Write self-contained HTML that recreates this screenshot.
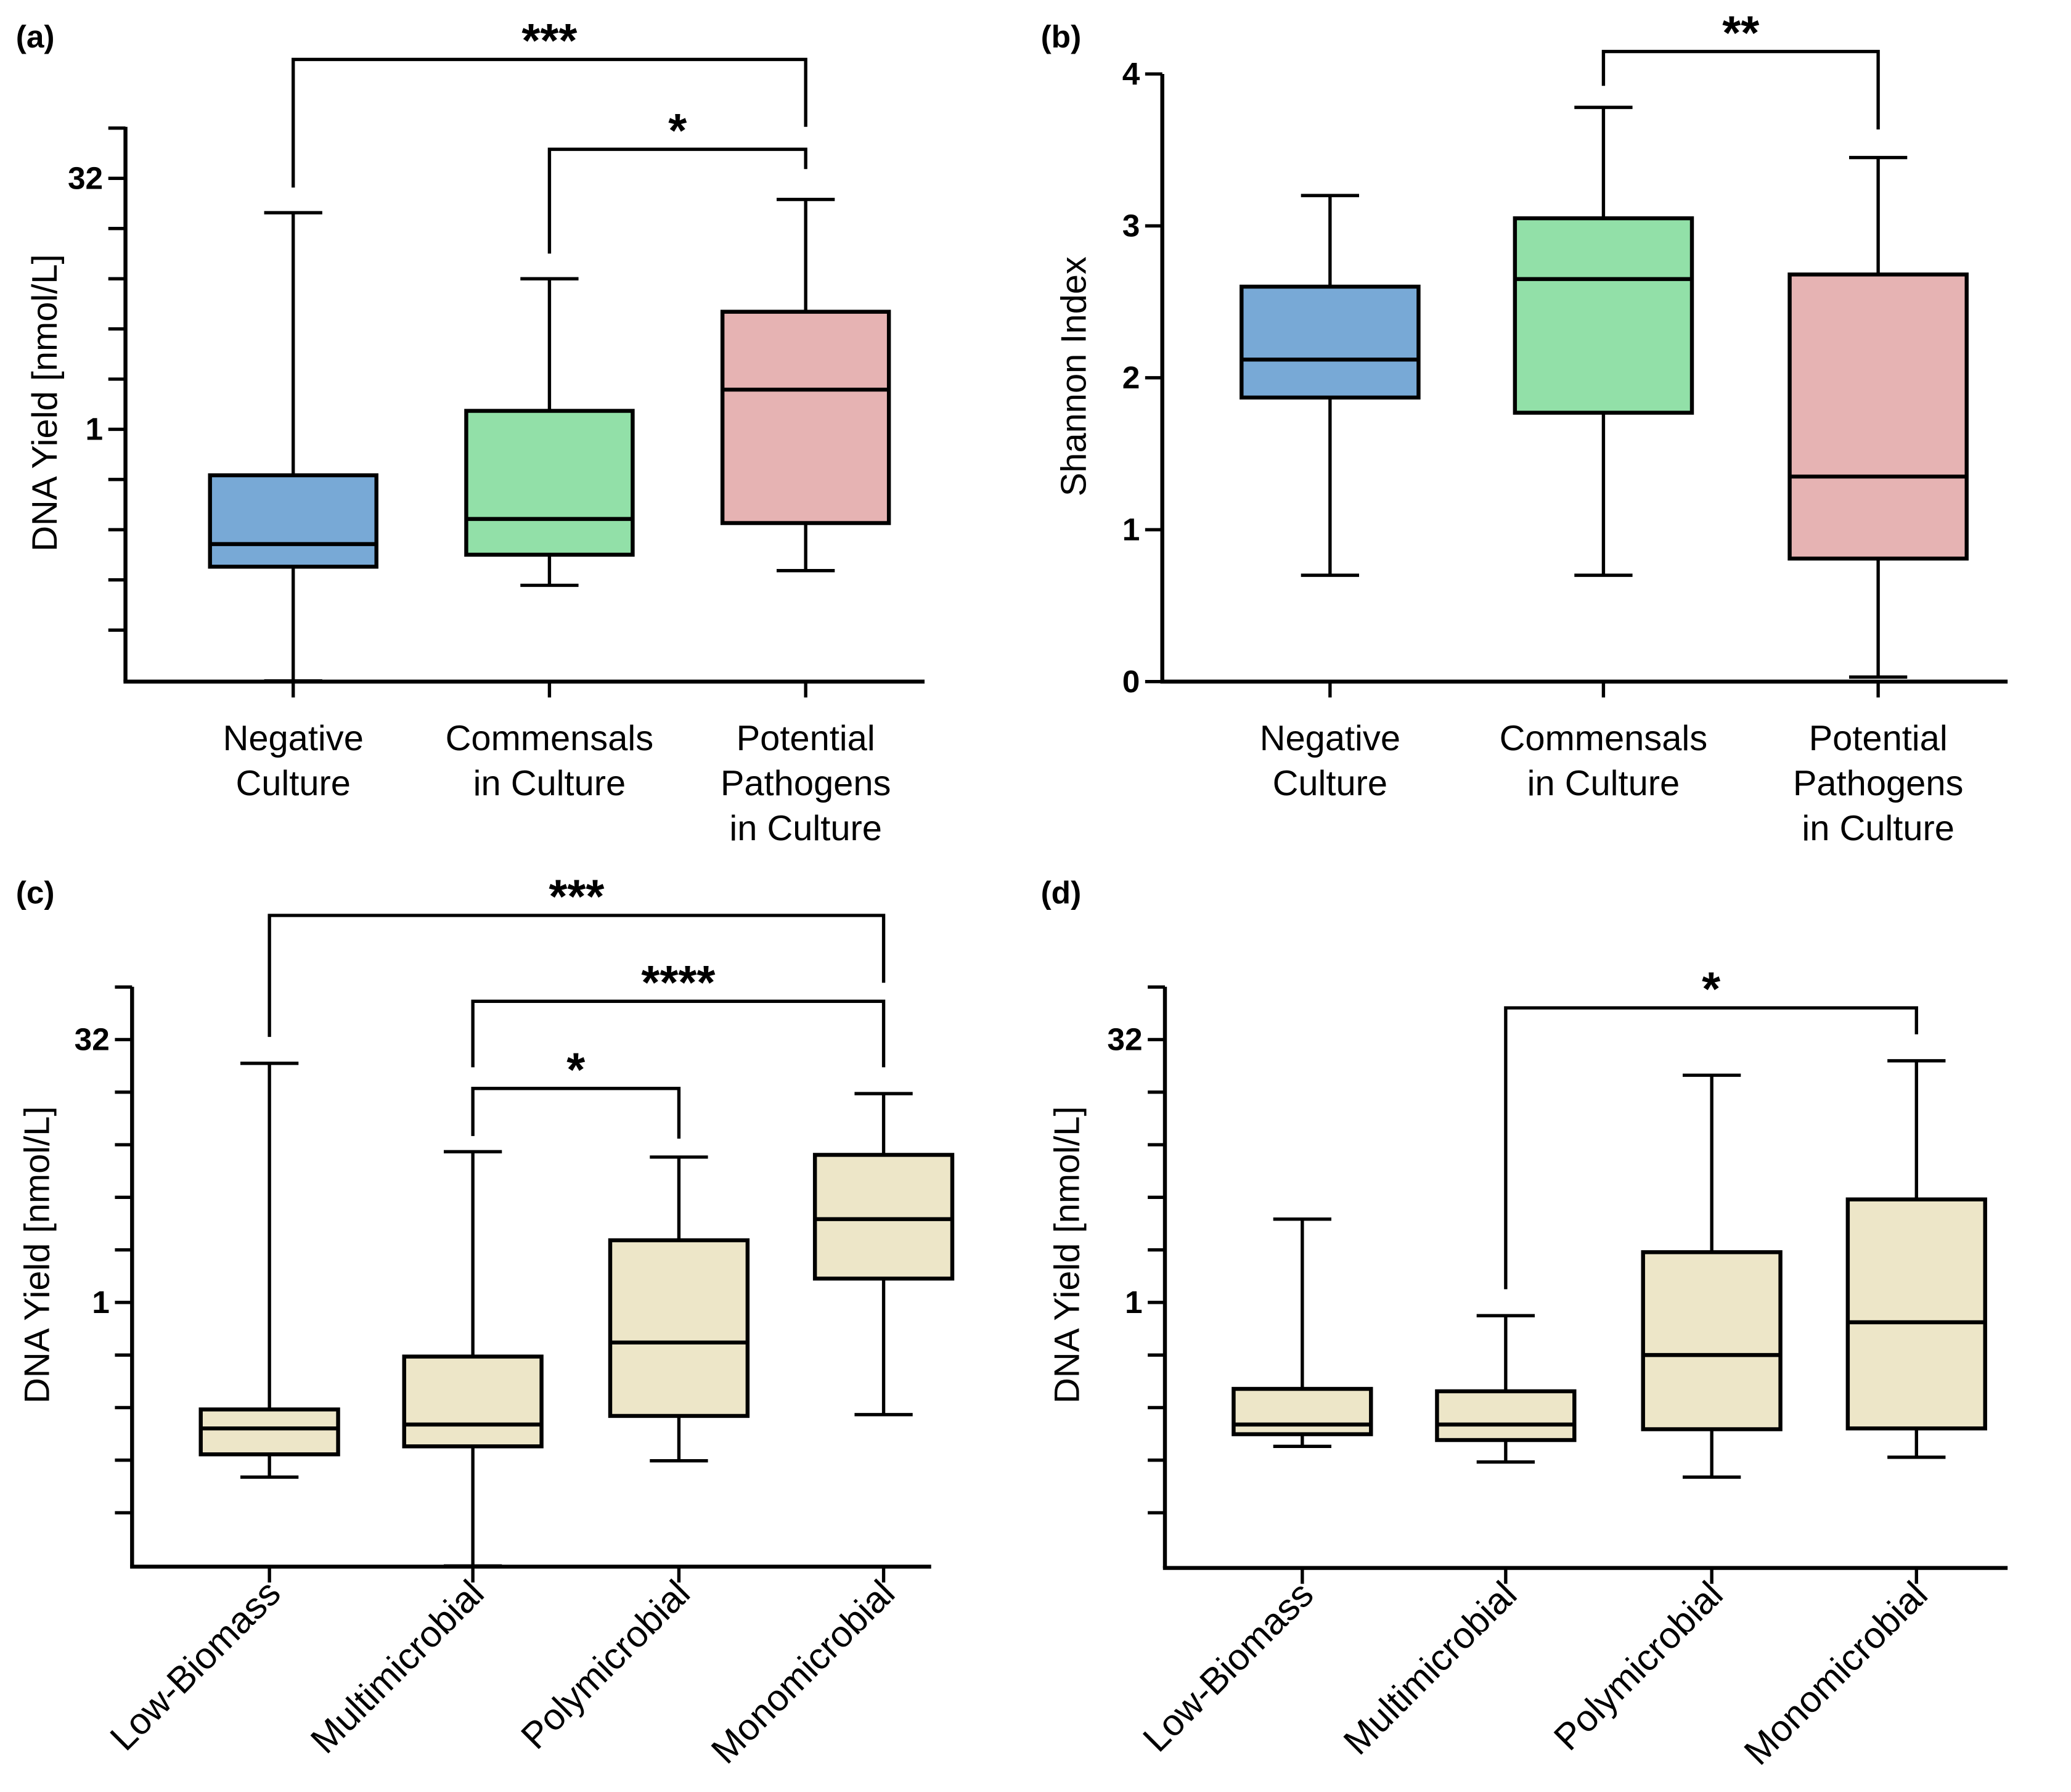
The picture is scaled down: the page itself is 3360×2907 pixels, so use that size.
<!DOCTYPE html>
<html><head><meta charset="utf-8"><style>
html,body{margin:0;padding:0;background:#fff}
svg{display:block}
text{font-family:"Liberation Sans",Arial,sans-serif;fill:#000}
</style></head><body>
<svg id="fig" width="3360" height="2907" viewBox="0 0 1568 1356.6" xmlns="http://www.w3.org/2000/svg"></svg>
<script>
// ---- data ----
const catsA = ["Negative|Culture","Commensals|in Culture","Potential|Pathogens|in Culture"];
const minA = [0.031, 0.116, 0.142];
const q1A = [0.15, 0.177, 0.274];
const medA = [0.205, 0.29, 1.73];
const q3A = [0.53, 1.29, 5.07];
const maxA = [19.9, 8.0, 23.9];

const catsB = catsA;
const minB = [0.70, 0.70, 0.03];
const q1B = [1.87, 1.77, 0.81];
const medB = [2.12, 2.65, 1.35];
const q3B = [2.60, 3.05, 2.68];
const maxB = [3.20, 3.78, 3.45];

const catsC = ["Low-Biomass","Multimicrobial","Polymicrobial","Monomicrobial"];
const minC = [0.10, 0.031, 0.124, 0.228];
const q1C = [0.135, 0.15, 0.224, 1.37];
const medC = [0.19, 0.20, 0.59, 3.0];
const q3C = [0.244, 0.49, 2.27, 7.0];
const maxC = [23.4, 7.3, 6.8, 15.7];

const catsD = catsC;
const minD = [0.15, 0.122, 0.10, 0.13];
const q1D = [0.176, 0.163, 0.188, 0.19];
const medD = [0.20, 0.20, 0.50, 0.77];
const q3D = [0.32, 0.31, 1.94, 3.89];
const maxD = [3.0, 0.84, 20, 24.2];

const logTickLabels = {5:"32", 0:"1"};
const linTicks = [0,1,2,3,4];

const NS="http://www.w3.org/2000/svg";
const svg=document.getElementById('fig');
function el(tag,attrs,parent){const e=document.createElementNS(NS,tag);for(const k in attrs)e.setAttribute(k,attrs[k]);(parent||svg).appendChild(e);return e;}

function panel(cfg){
  const g=el('g',{});
  
  
  const {x0,x1,yTop,yBot,centers,bw,fill,yScale}=cfg;
  const pl=el('text',{x:cfg.letterX,y:cfg.letterY,'font-size':24,'font-weight':'bold'},g);
  pl.textContent=cfg.letter;
  
  
  const ya=el('line',{x1:x0,y1:yTop,x2:x0,y2:yBot,stroke:'#000','stroke-width':3},g);
  
  
  const xa=el('line',{x1:x0-1.5,y1:yBot,x2:x1,y2:yBot,stroke:'#000','stroke-width':3},g);
  
  
  cfg.ticks.forEach(t=>{
    const y=yScale(t.v);
    el('line',{x1:x0-13,y1:y,x2:x0,y2:y,stroke:'#000','stroke-width':2.5},g);
    if(t.label!==undefined){
      const tx=el('text',{x:x0-17,y:y+8,'font-size':24,'font-weight':'bold','text-anchor':'end'},g);
      tx.textContent=t.label;
      
      
    }
  });
  const yt=el('text',{x:0,y:0,'font-size':27,'text-anchor':'middle',transform:`translate(${cfg.titleX},${cfg.titleY}) rotate(-90)`},g);
  yt.textContent=cfg.title;
  
  
  centers.forEach((cx,i)=>{
    const bg=el('g',{},g);
    
    
    const yMin=yScale(cfg.mins[i]),yQ1=yScale(cfg.q1[i]),yMed=yScale(cfg.med[i]),yQ3=yScale(cfg.q3[i]),yMax=yScale(cfg.maxs[i]);
    el('line',{x1:cx,y1:yMax,x2:cx,y2:yQ3,stroke:'#000','stroke-width':2.5},bg);
    el('line',{x1:cx,y1:yQ1,x2:cx,y2:yMin,stroke:'#000','stroke-width':2.5},bg);
    el('line',{x1:cx-22,y1:yMax,x2:cx+22,y2:yMax,stroke:'#000','stroke-width':2.5},bg);
    el('line',{x1:cx-22,y1:yMin,x2:cx+22,y2:yMin,stroke:'#000','stroke-width':2.5},bg);
    el('rect',{x:cx-bw/2,y:yQ3,width:bw,height:yQ1-yQ3,fill:fill[i],stroke:'#000','stroke-width':3},bg);
    el('line',{x1:cx-bw/2,y1:yMed,x2:cx+bw/2,y2:yMed,stroke:'#000','stroke-width':3},bg);
    el('line',{x1:cx,y1:yBot,x2:cx,y2:yBot+12,stroke:'#000','stroke-width':2.5},g);
    if(cfg.rotate){
      const t=el('text',{x:0,y:0,'font-size':28,'text-anchor':'end',transform:`translate(${cx+10},${yBot+22}) rotate(-45)`},g);
      t.textContent=cfg.cats[i];
      
      
    } else {
      cfg.cats[i].split('|').forEach((ln,j)=>{
        const t=el('text',{x:cx,y:yBot+52+j*34,'font-size':27,'text-anchor':'middle'},g);
        t.textContent=ln;
        
        
      });
    }
  });
  cfg.brackets.forEach(b=>{
    const bgp=el('g',{},g);
    
    
    const xa_=centers[b.a],xb_=centers[b.b];
    el('polyline',{points:`${xa_},${b.ya} ${xa_},${b.y} ${xb_},${b.y} ${xb_},${b.yb}`,fill:'none',stroke:'#000','stroke-width':2.5},bgp);
    const st=el('text',{x:(xa_+xb_)/2,y:b.y-2,'font-size':36,'font-weight':'bold','text-anchor':'middle'},bgp);
    st.textContent=b.s;
  });
}

function logScale(y1,perDouble){return v=>y1-perDouble*Math.log2(v);}
function logTicks(lo,hi){const r=[];for(let k=hi;k>=lo;k--){const t={v:Math.pow(2,k)};if(logTickLabels[k]!==undefined)t.label=logTickLabels[k];r.push(t);}return r;}

const blueGreenRed=['#78a9d6','#92e0a8','#e6b3b3'];
const beige=['#ede6c8','#ede6c8','#ede6c8','#ede6c8'];

panel({name:'panel-a',letter:'(a)',letterX:12,letterY:36,x0:95,x1:700,yTop:96,yBot:516,
  centers:[222,416,610],bw:126,fill:blueGreenRed,yScale:logScale(325,38),ticks:logTicks(-4,6),
  title:'DNA Yield [nmol/L]',titleX:43,titleY:305,cats:catsA,mins:minA,q1:q1A,med:medA,q3:q3A,maxs:maxA,
  brackets:[{a:0,b:2,y:45,ya:142,yb:96,s:'***'},{a:1,b:2,y:113,ya:192,yb:128,s:'*'}]});

const linB=v=>516-115*v;
panel({name:'panel-b',letter:'(b)',letterX:788,letterY:36,x0:880,x1:1520,yTop:56,yBot:516,
  centers:[1007,1214,1422],bw:134,fill:blueGreenRed,yScale:linB,ticks:linTicks.map(v=>({v,label:String(v)})),
  title:'Shannon Index',titleX:822,titleY:285,cats:catsB,mins:minB,q1:q1B,med:medB,q3:q3B,maxs:maxB,
  brackets:[{a:1,b:2,y:39,ya:65,yb:98,s:'**'}]});

panel({name:'panel-c',letter:'(c)',letterX:12,letterY:684,x0:100,x1:705,yTop:747,yBot:1186,
  centers:[204,358,514,669],bw:104,fill:beige,yScale:logScale(986,39.8),ticks:logTicks(-4,6),rotate:true,
  title:'DNA Yield [nmol/L]',titleX:37,titleY:950,cats:catsC,mins:minC,q1:q1C,med:medC,q3:q3C,maxs:maxC,
  brackets:[{a:0,b:3,y:693,ya:785,yb:744,s:'***'},{a:1,b:3,y:758,ya:808,yb:808,s:'****'},{a:1,b:2,y:824,ya:860,yb:862,s:'*'}]});

panel({name:'panel-d',letter:'(d)',letterX:788,letterY:684,x0:882,x1:1520,yTop:747,yBot:1187,
  centers:[986,1140,1296,1451],bw:104,fill:beige,yScale:logScale(986,39.8),ticks:logTicks(-4,6),rotate:true,
  title:'DNA Yield [nmol/L]',titleX:817,titleY:950,cats:catsD,mins:minD,q1:q1D,med:medD,q3:q3D,maxs:maxD,
  brackets:[{a:1,b:3,y:763,ya:976,yb:783,s:'*'}]});
</script>
</body></html>
